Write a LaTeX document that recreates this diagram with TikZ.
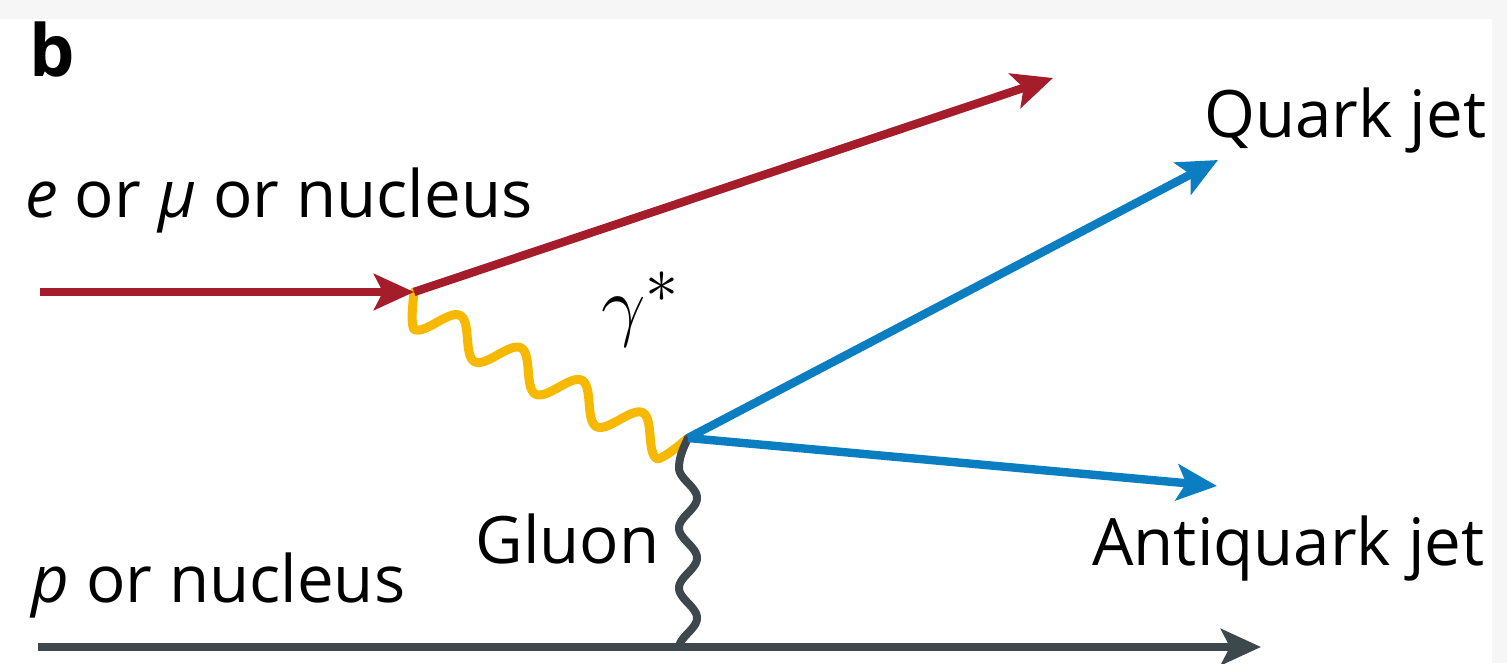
\documentclass[tikz,border=0pt]{standalone}
\usepackage{graphicx}
\usepackage{fontspec}
\setmainfont{Open Sans}
\usetikzlibrary{arrows.meta}
\definecolor{fred}{HTML}{A51C2B}
\definecolor{fblue}{HTML}{0B7EC1}
\definecolor{fyellow}{HTML}{F6B900}
\definecolor{fgrey}{HTML}{3D484C}
\definecolor{band}{HTML}{F6F6F6}
\begin{document}
\begin{tikzpicture}[x=0.5pt,y=-0.5pt,
  lbl/.style={font=\fontsize{32.7}{38}\selectfont, inner sep=0pt, anchor=base west},
  tipped/.style={-{Stealth[length=20pt,width=18pt,inset=4.5pt]}},
  fermion/.style={line width=4.2pt, tipped},
  photon/.style={fyellow, line width=4.5pt, line cap=round, line join=round},
  gluon/.style={fgrey, line width=4pt, line cap=round, line join=round},
]
\fill[white] (0,0) rectangle (1507,663);
\fill[band] (0,0) rectangle (1507,19);
\fill[band] (1492,0) rectangle (1507,663);
\useasboundingbox (0,0) rectangle (1507,663);

% vertices and free ends
\coordinate (inL) at (40,292);
\coordinate (v1) at (414,292);
\coordinate (outE) at (1053,78);
\coordinate (v2) at (688,438);
\coordinate (qE) at (1218,160);
\coordinate (aE) at (1217,486);
\coordinate (pL) at (38,647);
\coordinate (pR) at (1261,647);

% virtual photon (wavy) from v1 to v2
\begin{scope}[shift={(v1)}]
\draw[photon] plot[domain=0:310.5, samples=240, smooth]
  ({\x*0.8825 - (17*sin(5.2174*\x) + 16*min(1,\x/17.25,(310.5-\x)/17.25))*0.4702},
   {\x*0.4702 + (17*sin(5.2174*\x) + 16*min(1,\x/17.25,(310.5-\x)/17.25))*0.8825});
\end{scope}

% gluon (wavy) from v2 down to the proton line
\begin{scope}[shift={(v2)}]
\draw[gluon] plot[domain=0:209, samples=200, smooth]
  ({-9*sin((\x<30) ? 3*\x : 6*\x-90)}, {\x});
\end{scope}

% fermion lines
\draw[fermion, fred] (inL) -- (v1);
\draw[fermion, fred] (v1) -- (outE);
\draw[fermion, fblue] (v2) -- (qE);
\draw[fermion, fblue] (v2) -- (aE);
\draw[fermion, fgrey] (pL) -- (pR);

% labels
\node[lbl, font=\fontsize{36}{40}\selectfont\bfseries] (b) at (29,77) {b};
\node[lbl] (eLbl) at (25,218) {\textit{e} or \textit{μ} or nucleus};
\node[inner sep=0pt, anchor=base west, font=\fontsize{24.88}{30}\selectfont] (gLbl) at (601,331) {\scalebox{1.59}{$\gamma^{\ast}$}};
\node[lbl] (qLbl) at (1204,138) {Quark jet};
\node[lbl] (gluLbl) at (475,563) {Gluon};
\node[lbl] (aLbl) at (1092,565) {Antiquark jet};
\node[lbl] (pLbl) at (31,602) {\textit{p} or nucleus};
\end{tikzpicture}
\end{document}
